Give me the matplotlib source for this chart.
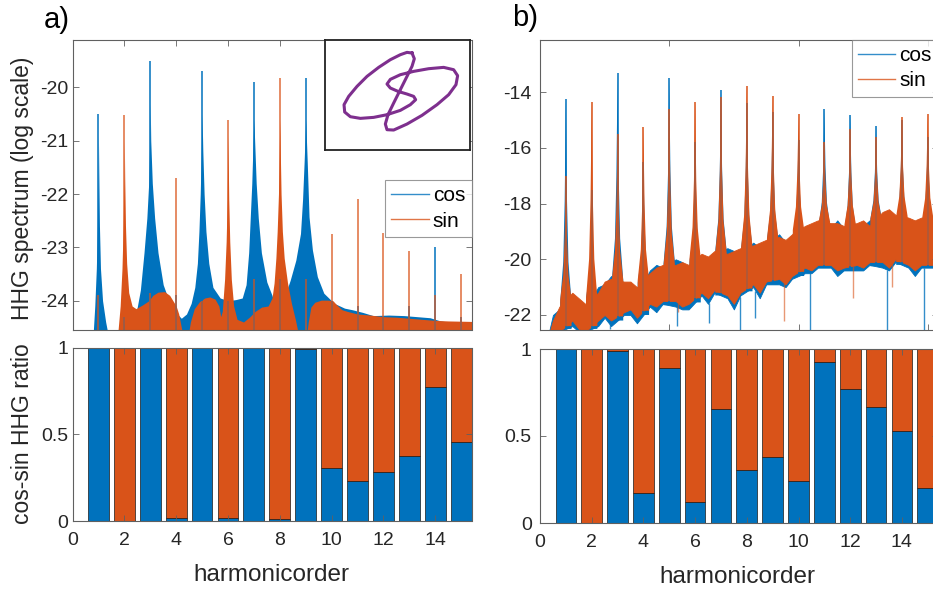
import matplotlib
matplotlib.use("Agg")
import matplotlib.pyplot as plt
from matplotlib.lines import Line2D
import numpy as np

plt.rcParams['font.family'] = ['Liberation Sans', 'DejaVu Sans']
plt.rcParams['axes.unicode_minus'] = False

BLUE = '#0072BD'
ORANGE = '#D95319'
PURPLE = '#7E2F8E'
TXT = '#262626'

# ---------------- data ----------------
harmonics = list(range(1, 16))

# panel a) spectrum envelopes (harmonic order, log10 intensity)
a_cos_env_x = [0.70, 0.80, 0.86, 0.92, 0.96, 0.985, 1.0, 1.015, 1.04, 1.08, 1.16, 1.28, 1.40,
               2.25, 2.45, 2.62, 2.76, 2.87, 2.94, 2.98, 3.0, 3.02, 3.08, 3.17, 3.3, 3.5, 3.72,
               3.95, 4.2, 4.4, 4.58, 4.72, 4.82, 4.88, 4.93, 4.97, 5.0, 5.03, 5.08, 5.15, 5.26,
               5.42, 5.7, 6.0, 6.3, 6.55, 6.7, 6.8, 6.86, 6.92, 6.97, 7.0, 7.03, 7.09, 7.17, 7.29,
               7.5, 7.7, 7.85, 8.0, 8.2, 8.4, 8.62, 8.8, 8.88, 8.94, 9.0, 9.06, 9.13, 9.26, 9.45,
               9.7, 10.1, 10.5, 10.8, 11.2, 11.6, 12.2, 12.8, 13.3, 13.8, 14.2, 14.8, 15.5]
a_cos_env_y = [-24.7, -24.6, -24.1, -23.4, -22.6, -21.6, -20.9, -21.6, -22.6, -23.4, -24.0, -24.4, -24.7,
               -24.7, -24.25, -23.8, -23.1, -22.45, -21.8, -21.0, -20.3, -21.0, -21.8, -22.45, -23.1, -23.7, -24.0,
               -24.2, -24.33, -24.25, -24.05, -23.75, -23.3, -22.7, -22.0, -21.2, -20.5, -21.2, -22.0, -22.7, -23.3,
               -23.75, -23.95, -24.0, -23.98, -23.95, -23.7, -23.1, -22.45, -21.8, -21.0, -20.6, -21.0, -21.8, -22.45, -23.1,
               -23.65, -23.9, -24.15, -24.2, -23.9, -23.62, -23.24, -22.74, -22.1, -21.4, -20.6, -21.4, -22.43, -23.05, -23.55,
               -23.86, -24.05, -24.14, -24.17, -24.22, -24.28, -24.27, -24.28, -24.3, -24.32, -24.38, -24.42, -24.42]

a_sin_env_x = [1.6, 1.75, 1.84, 1.91, 1.955, 1.985, 2.0, 2.015, 2.045, 2.09, 2.17, 2.3, 2.45, 2.7,
               2.95, 3.1, 3.3, 3.55, 3.75, 3.9, 4.0, 4.1, 4.2, 4.28,
               4.45, 4.55, 4.7, 4.9, 5.1, 5.3, 5.5, 5.65, 5.72, 5.78, 5.87, 5.93, 5.97, 5.99, 6.0,
               6.01, 6.03, 6.07, 6.13, 6.22, 6.35, 6.6, 6.85, 7.05, 7.3, 7.55, 7.7, 7.78, 7.85, 7.9,
               7.95, 7.98, 8.0, 8.02, 8.05, 8.1, 8.17, 8.3, 8.45, 8.6, 8.75,
               9.02, 9.1, 9.2, 9.35, 9.6, 9.85, 10.05, 10.2, 10.4, 10.6, 11.0, 11.5, 12.0, 12.5,
               13.0, 13.5, 14.0, 14.5, 15.5]
a_sin_env_y = [-24.7, -24.6, -24.1, -23.4, -22.6, -21.7, -21.0, -21.7, -22.6, -23.3, -23.85, -24.1, -24.15, -24.08,
               -24.0, -23.9, -23.84, -23.83, -23.9, -24.02, -24.1, -24.25, -24.5, -24.7,
               -24.7, -24.4, -24.15, -24.02, -23.95, -23.93, -23.97, -24.1, -24.3, -24.2, -23.6, -22.9, -22.1, -21.3, -20.9,
               -21.3, -22.1, -22.9, -23.6, -24.1, -24.35, -24.4, -24.3, -24.2, -24.12, -24.1, -23.95, -23.67, -23.2, -22.7,
               -22.0, -21.2, -20.6, -21.2, -22.0, -22.7, -23.2, -23.67, -24.05, -24.35, -24.7,
               -24.7, -24.4, -24.12, -24.03, -23.99, -23.99, -24.0, -24.08, -24.17, -24.2, -24.25, -24.27, -24.3, -24.31,
               -24.33, -24.35, -24.37, -24.38, -24.39]

# panel a) peak heights at each harmonic
a_cos_peak = [-20.5, -24.3, -19.5, -23.9, -19.7, -24.0, -19.9, -23.6, -19.82, -24.0, -24.1, -24.3, -24.1, -23.0, -24.3]
a_sin_peak = [-23.9, -20.52, -23.85, -21.7, -24.0, -20.62, -23.6, -19.82, -23.6, -22.75, -22.1, -22.73, -23.07, -23.9, -23.5]

# panel b) peak heights
b_cos_peak = [-14.25, -17.5, -13.3, -16.5, -13.5, -15.8, -13.9, -14.4, -14.7, -15.7, -14.6, -14.82, -15.2, -15.0, -15.6]
b_sin_peak = [-17.0, -14.34, -15.5, -15.26, -14.6, -14.35, -14.16, -13.77, -14.12, -14.79, -15.8, -15.3, -15.6, -14.9, -14.79]

# panel b) noisy background band, sampled at 1/4, 1/2, 3/4 of each inter-harmonic gap
b_band_x = [g + f for g in range(16) for f in (0.25, 0.5, 0.75)]
b_sin_hi = [-23.0, -22.2, -21.7,  -21.2, -21.4, -21.6,  -21.2, -20.8, -20.7,  -20.8, -20.8, -21.0,
            -20.5, -20.3, -20.2,  -20.2, -20.1, -20.2,  -19.8, -19.9, -19.7,  -19.8, -19.7, -19.6,
            -19.5, -19.4, -19.3,  -19.2, -19.3, -19.1,  -18.8, -18.7, -18.6,  -18.7, -18.7, -18.8,
            -18.7, -18.6, -18.8,  -18.3, -18.2, -18.4,  -18.5, -18.6, -18.5,  -18.6, -18.5, -18.6]
b_sin_lo = [-23.0, -22.6, -22.6,  -22.2, -22.5, -22.6,  -22.2, -22.0, -22.2,  -21.9, -21.8, -22.1,
            -21.6, -21.7, -21.5,  -21.5, -21.7, -21.6,  -21.2, -21.4, -21.1,  -21.3, -21.6, -21.2,
            -20.9, -21.2, -20.8,  -20.7, -20.9, -20.6,  -20.3, -20.4, -20.2,  -20.2, -20.4, -20.3,
            -20.2, -20.3, -20.1,  -20.1, -20.3, -20.0,  -20.2, -20.4, -20.2,  -20.2, -20.3, -20.2]
b_cos_hi = [-23.0, -22.0, -21.8,  -21.3, -21.5, -21.8,  -21.0, -20.9, -20.6,  -20.9, -21.0, -21.3,
            -20.4, -20.2, -20.3,  -20.0, -20.1, -20.3,  -19.9, -20.0, -19.8,  -19.6, -19.7, -19.8,
            -19.4, -19.6, -19.5,  -19.1, -19.4, -19.3,  -18.9, -18.8, -18.7,  -18.9, -18.6, -18.9,
            -18.9, -18.8, -18.6,  -18.5, -18.3, -18.6,  -18.7, -18.8, -18.6,  -18.7, -18.6, -18.7]
b_cos_lo = [-23.0, -22.6, -22.6,  -22.4, -22.6, -22.6,  -22.4, -22.1, -22.4,  -22.0, -22.0, -22.3,
            -21.7, -21.9, -21.6,  -21.7, -21.8, -21.8,  -21.3, -21.6, -21.2,  -21.4, -21.8, -21.3,
            -21.0, -21.4, -20.9,  -20.9, -21.0, -20.7,  -20.5, -20.5, -20.3,  -20.3, -20.6, -20.4,
            -20.4, -20.4, -20.2,  -20.3, -20.4, -20.1,  -20.3, -20.6, -20.3,  -20.3, -20.4, -20.3]
# deep downward excursions
b_cos_dip_x = [2.7, 5.3, 6.53, 7.72, 8.33, 10.45, 13.42, 14.84]
b_cos_dip_y = [-22.5, -22.4, -22.3, -22.55, -22.1, -22.55, -22.55, -22.55]
b_sin_dip_x = [5.35, 9.43, 12.1, 13.6]
b_sin_dip_y = [-21.9, -22.2, -21.4, -21.0]

# cos-sin ratios (bar charts)
a_cos_ratio = [1.0, 0.0, 1.0, 0.02, 0.995, 0.02, 1.0, 0.01, 0.99, 0.306, 0.23, 0.283, 0.375, 0.775, 0.457]
a_sin_ratio = [0.0, 1.0, 0.0, 0.98, 0.005, 0.98, 0.0, 0.99, 0.01, 0.694, 0.77, 0.717, 0.625, 0.225, 0.543]
b_cos_ratio = [1.0, 0.0, 0.99, 0.173, 0.893, 0.12, 0.655, 0.306, 0.382, 0.243, 0.927, 0.772, 0.667, 0.529, 0.2]
b_sin_ratio = [0.0, 1.0, 0.01, 0.827, 0.107, 0.88, 0.345, 0.694, 0.618, 0.757, 0.073, 0.228, 0.333, 0.471, 0.8]

# inset: field trajectory (traced)
inset_x = [270, 255, 235, 205, 170, 135, 105, 80, 66, 68, 85, 115, 155, 195, 235, 265, 281, 275, 255, 228,
           205, 195, 205, 235, 275, 320, 365, 395, 407, 402, 380, 345, 300, 255, 215, 195, 190, 198, 215, 235,
           255, 270, 277, 270]
inset_y = [45, 43, 50, 65, 88, 115, 145, 175, 200, 222, 236, 241, 238, 230, 217, 200, 185, 175, 168, 160,
           150, 138, 124, 110, 100, 92, 88, 95, 113, 140, 170, 200, 232, 258, 276, 275, 258, 230, 195, 155,
           115, 85, 62, 45]

a_top_yticks = [-24, -23, -22, -21, -20]
b_top_yticks = [-22, -20, -18, -16, -14]
ratio_yticks = [0, 0.5, 1]
ratio_yticklabels = ['0', '0.5', '1']
xticks_bottom = [0, 2, 4, 6, 8, 10, 12, 14]

# ---------------- figure ----------------
W, H = 933, 594
fig = plt.figure(figsize=(W / 100, H / 100), dpi=100)


def rect(l, t, r, b):
    return [l / W, 1 - b / H, (r - l) / W, (b - t) / H]


XMAX = 15.4
axA = fig.add_axes(rect(72.5, 40, 471.5, 330))
axAb = fig.add_axes(rect(72.5, 347.5, 471.5, 521))
bR = 540 + XMAX * 25.85
axB = fig.add_axes(rect(540, 40, bR, 330))
axBb = fig.add_axes(rect(540, 349, bR, 523))


def style(ax, pad):
    for s in ax.spines.values():
        s.set_color('#606060')
        s.set_linewidth(0.8)
    ax.tick_params(direction='in', length=4, width=0.6, color='#606060', top=True, right=True,
                   labelsize=14, labelcolor=TXT, pad=pad)


def make_legend(ax, anchor):
    handles = [Line2D([], [], color=BLUE, lw=1.0, alpha=0.8), Line2D([], [], color=ORANGE, lw=1.0, alpha=0.8)]
    lg = ax.legend(handles, ['cos', 'sin'], loc='upper right', bbox_to_anchor=anchor, fontsize=15,
                   frameon=True, fancybox=False, edgecolor='#808080', handlelength=1.8, handletextpad=0.2,
                   borderpad=0.3, labelspacing=0.3, borderaxespad=0)
    lg.get_frame().set_linewidth(0.8)


# ---- panel a top ----
ax = axA
ax.fill_between(a_cos_env_x, a_cos_env_y, -25, color=BLUE, lw=0)
ax.vlines(harmonics, -25, a_cos_peak, color=BLUE, lw=1.1)
ax.fill_between(a_sin_env_x, a_sin_env_y, -25, color=ORANGE, lw=0)
ax.vlines(harmonics, -25, a_sin_peak, color=ORANGE, lw=1.1, alpha=0.85)
ax.set_xlim(0, XMAX)
ax.set_ylim(-24.55, -19.11)
ax.set_yticks(a_top_yticks)
ax.set_yticklabels([str(v) for v in a_top_yticks])
ax.set_xticks(xticks_bottom)
ax.set_xticklabels([])
style(ax, 3)
make_legend(ax, (1.0, 0.517))

# inset
axI = fig.add_axes(rect(324.7, 39.7, 470.3, 149.7))
axI.plot(inset_x, inset_y, color=PURPLE, lw=2.2, solid_joinstyle='round')
axI.set_xlim(8, 445)
axI.set_ylim(335, 5)
axI.set_xticks([])
axI.set_yticks([])
for s in axI.spines.values():
    s.set_color('#222222')
    s.set_linewidth(1.3)

# ---- panel b top ----
ax = axB
cusp_dx = [-0.22, -0.1, -0.045, -0.022, 0.0, 0.022, 0.045, 0.1, 0.22]
cusp_f = [0, 0.2, 0.5, 0.75, 1, 0.75, 0.5, 0.2, 0]


def draw_band(ax, peaks, hi, lo, dips_x, dips_y, color, dip_alpha):
    ax.fill_between(b_band_x, lo, hi, color=color, lw=0.6, edgecolor=color)
    lows = []
    for n, pk in zip(harmonics, peaks):
        base = np.interp(n, b_band_x, hi)
        low = np.interp(n, b_band_x, lo)
        lows.append(low)
        xs = [n + d for d in cusp_dx] + [n + 0.22, n - 0.22]
        ys = [base + f * (pk - base) for f in cusp_f] + [low, low]
        ax.fill(xs, ys, color=color, lw=0)
    ax.vlines(harmonics, lows, peaks, color=color, lw=1.1)
    ax.vlines(dips_x, dips_y, [np.interp(x, b_band_x, lo) for x in dips_x],
              color=color, lw=1.0, alpha=dip_alpha)


draw_band(ax, b_cos_peak, b_cos_hi, b_cos_lo, b_cos_dip_x, b_cos_dip_y, BLUE, 0.8)
draw_band(ax, b_sin_peak, b_sin_hi, b_sin_lo, b_sin_dip_x, b_sin_dip_y, ORANGE, 0.6)
ax.set_xlim(0, XMAX)
ax.set_ylim(-22.54, -12.12)
ax.set_yticks(b_top_yticks)
ax.set_yticklabels([str(v) for v in b_top_yticks])
ax.set_xticks([0, 5, 10, 15])
ax.set_xticklabels([])
style(ax, 6)
make_legend(ax, (1.0, 1.0))

# ---- bar panels ----
for ax, cr, sr, pad in [(axAb, a_cos_ratio, a_sin_ratio, 3), (axBb, b_cos_ratio, b_sin_ratio, 6)]:
    ax.bar(harmonics, cr, width=0.8, color=BLUE, edgecolor='#1a1a1a', lw=0.5)
    ax.bar(harmonics, sr, width=0.8, bottom=cr, color=ORANGE, edgecolor='#1a1a1a', lw=0.5)
    ax.set_xlim(0, XMAX)
    ax.set_ylim(0, 1)
    ax.set_yticks(ratio_yticks)
    ax.set_yticklabels(ratio_yticklabels)
    ax.set_xticks(xticks_bottom)
    ax.set_xticklabels([str(v) for v in xticks_bottom])
    style(ax, pad)
    ax.tick_params(axis='x', pad=8)

# ---- texts ----
fig.text(23 / W, 1 - 188 / H, 'HHG spectrum (log scale)', rotation=90, ha='center', va='center',
         fontsize=16.5, color=TXT)
fig.text(23 / W, 1 - 434 / H, 'cos-sin HHG ratio', rotation=90, ha='center', va='center',
         fontsize=16.5, color=TXT)
fig.text(271 / W, 1 - 575 / H, 'harmonicorder', ha='center', va='center', fontsize=17.5, color=TXT)
fig.text(737 / W, 1 - 577 / H, 'harmonicorder', ha='center', va='center', fontsize=17.5, color=TXT)
fig.text(44 / W, 1 - 20 / H, 'a)', ha='left', va='center', fontsize=21, color='black')
fig.text(512 / W, 1 - 18 / H, 'b)', ha='left', va='center', fontsize=21, color='black')

fig.savefig('out.png', dpi=100)
